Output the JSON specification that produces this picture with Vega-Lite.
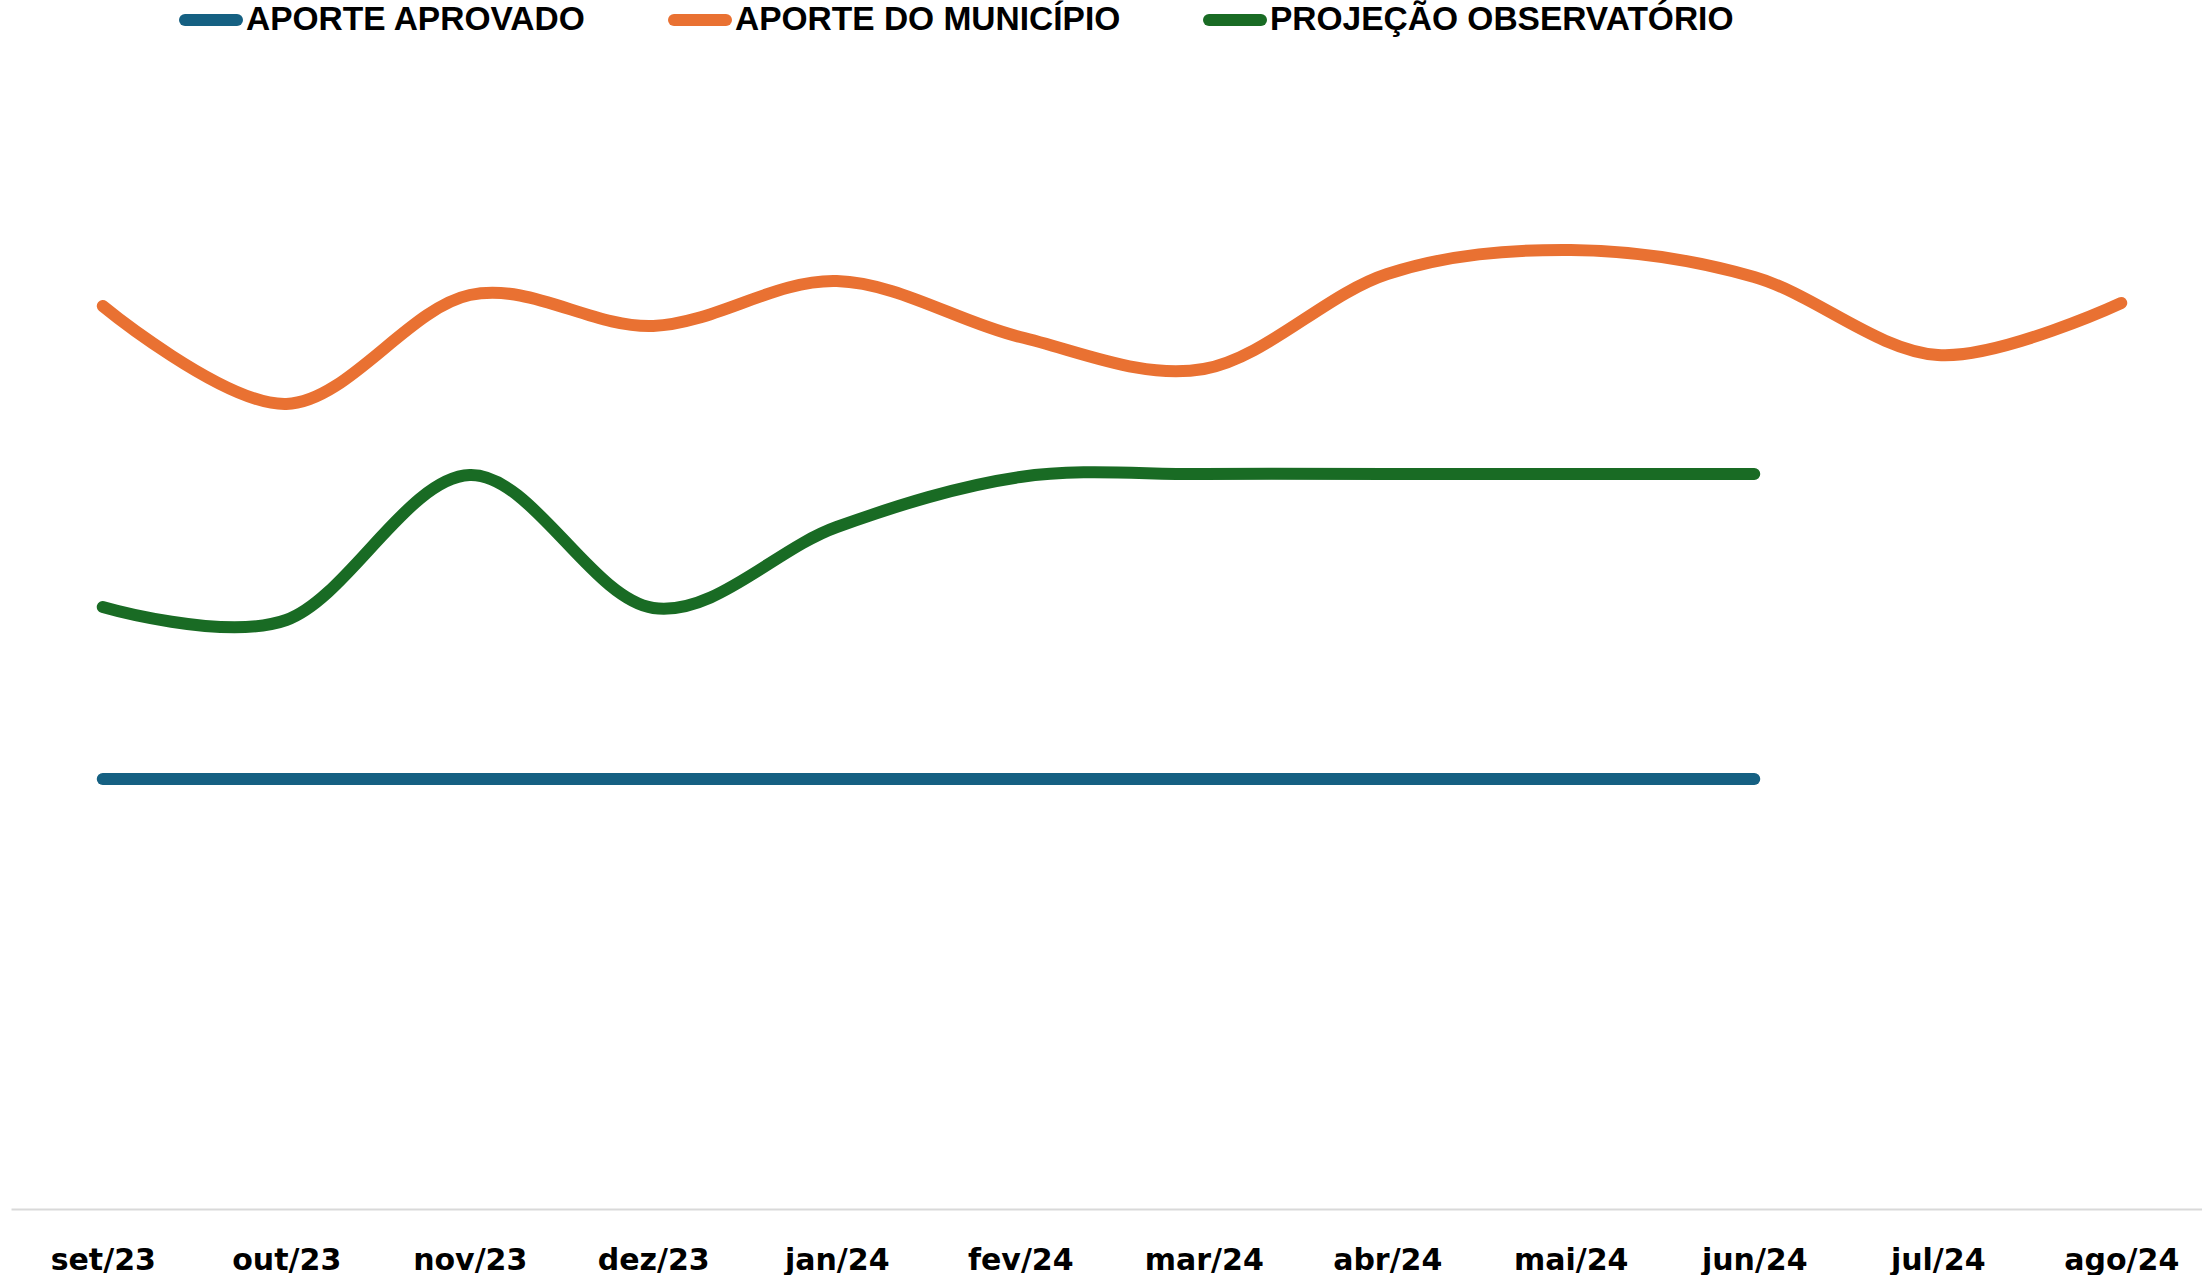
{
  "$schema": "https://vega.github.io/schema/vega-lite/v6.json",
  "autosize": "none",
  "width": 2202,
  "height": 1149,
  "padding": {"left": 11, "top": 60, "right": 0, "bottom": 66},
  "background": "white",
  "config": {"view": {"stroke": null}},
  "data": {
    "values": [
      {"mes": "set/23", "serie": "APORTE APROVADO", "valor": 430},
      {"mes": "out/23", "serie": "APORTE APROVADO", "valor": 430},
      {"mes": "nov/23", "serie": "APORTE APROVADO", "valor": 430},
      {"mes": "dez/23", "serie": "APORTE APROVADO", "valor": 430},
      {"mes": "jan/24", "serie": "APORTE APROVADO", "valor": 430},
      {"mes": "fev/24", "serie": "APORTE APROVADO", "valor": 430},
      {"mes": "mar/24", "serie": "APORTE APROVADO", "valor": 430},
      {"mes": "abr/24", "serie": "APORTE APROVADO", "valor": 430},
      {"mes": "mai/24", "serie": "APORTE APROVADO", "valor": 430},
      {"mes": "jun/24", "serie": "APORTE APROVADO", "valor": 430},
      {"mes": "set/23", "serie": "APORTE DO MUNICÍPIO", "valor": 903},
      {"mes": "out/23", "serie": "APORTE DO MUNICÍPIO", "valor": 805},
      {"mes": "nov/23", "serie": "APORTE DO MUNICÍPIO", "valor": 914},
      {"mes": "dez/23", "serie": "APORTE DO MUNICÍPIO", "valor": 883},
      {"mes": "jan/24", "serie": "APORTE DO MUNICÍPIO", "valor": 928},
      {"mes": "fev/24", "serie": "APORTE DO MUNICÍPIO", "valor": 872},
      {"mes": "mar/24", "serie": "APORTE DO MUNICÍPIO", "valor": 840},
      {"mes": "abr/24", "serie": "APORTE DO MUNICÍPIO", "valor": 935},
      {"mes": "mai/24", "serie": "APORTE DO MUNICÍPIO", "valor": 959},
      {"mes": "jun/24", "serie": "APORTE DO MUNICÍPIO", "valor": 932},
      {"mes": "jul/24", "serie": "APORTE DO MUNICÍPIO", "valor": 854},
      {"mes": "ago/24", "serie": "APORTE DO MUNICÍPIO", "valor": 906},
      {"mes": "set/23", "serie": "PROJEÇÃO OBSERVATÓRIO", "valor": 602},
      {"mes": "out/23", "serie": "PROJEÇÃO OBSERVATÓRIO", "valor": 589},
      {"mes": "nov/23", "serie": "PROJEÇÃO OBSERVATÓRIO", "valor": 734},
      {"mes": "dez/23", "serie": "PROJEÇÃO OBSERVATÓRIO", "valor": 601},
      {"mes": "jan/24", "serie": "PROJEÇÃO OBSERVATÓRIO", "valor": 682},
      {"mes": "fev/24", "serie": "PROJEÇÃO OBSERVATÓRIO", "valor": 732},
      {"mes": "mar/24", "serie": "PROJEÇÃO OBSERVATÓRIO", "valor": 735},
      {"mes": "abr/24", "serie": "PROJEÇÃO OBSERVATÓRIO", "valor": 735},
      {"mes": "mai/24", "serie": "PROJEÇÃO OBSERVATÓRIO", "valor": 735},
      {"mes": "jun/24", "serie": "PROJEÇÃO OBSERVATÓRIO", "valor": 735}
    ]
  },
  "mark": {"type": "line", "interpolate": "cardinal", "strokeWidth": 12, "strokeCap": "round", "strokeJoin": "round"},
  "encoding": {
    "x": {
      "field": "mes", "type": "ordinal",
      "sort": ["set/23","out/23","nov/23","dez/23","jan/24","fev/24","mar/24","abr/24","mai/24","jun/24","jul/24","ago/24"],
      "scale": {"type": "point", "padding": 0.5},
      "axis": {
        "title": null, "ticks": false, "grid": false,
        "domainColor": "#d9d9d9", "domainWidth": 2,
        "labelFont": "DejaVu Sans", "labelFontWeight": "bold", "labelFontSize": 30,
        "labelColor": "#000000", "labelPadding": 36, "labelAngle": 0
      }
    },
    "y": {
      "field": "valor", "type": "quantitative",
      "scale": {"domain": [0, 1149], "nice": false, "zero": true},
      "axis": null
    },
    "color": {
      "field": "serie", "type": "nominal",
      "scale": {
        "domain": ["APORTE APROVADO", "APORTE DO MUNICÍPIO", "PROJEÇÃO OBSERVATÓRIO"],
        "range": ["#156082", "#E97132", "#196B24"]
      },
      "legend": {
        "title": null, "orient": "none", "direction": "horizontal",
        "legendX": 168, "legendY": -72, "padding": 0,
        "symbolType": "stroke", "symbolSize": 2704, "symbolStrokeWidth": 12,
        "labelFont": "Liberation Sans", "labelFontWeight": "bold", "labelFontSize": 33.5,
        "labelColor": "#000000", "labelOffset": 3, "columnPadding": 64, "labelLimit": 1000,
        "encode": {"symbols": {"update": {"strokeCap": {"value": "round"}}}}
      }
    }
  }
}
